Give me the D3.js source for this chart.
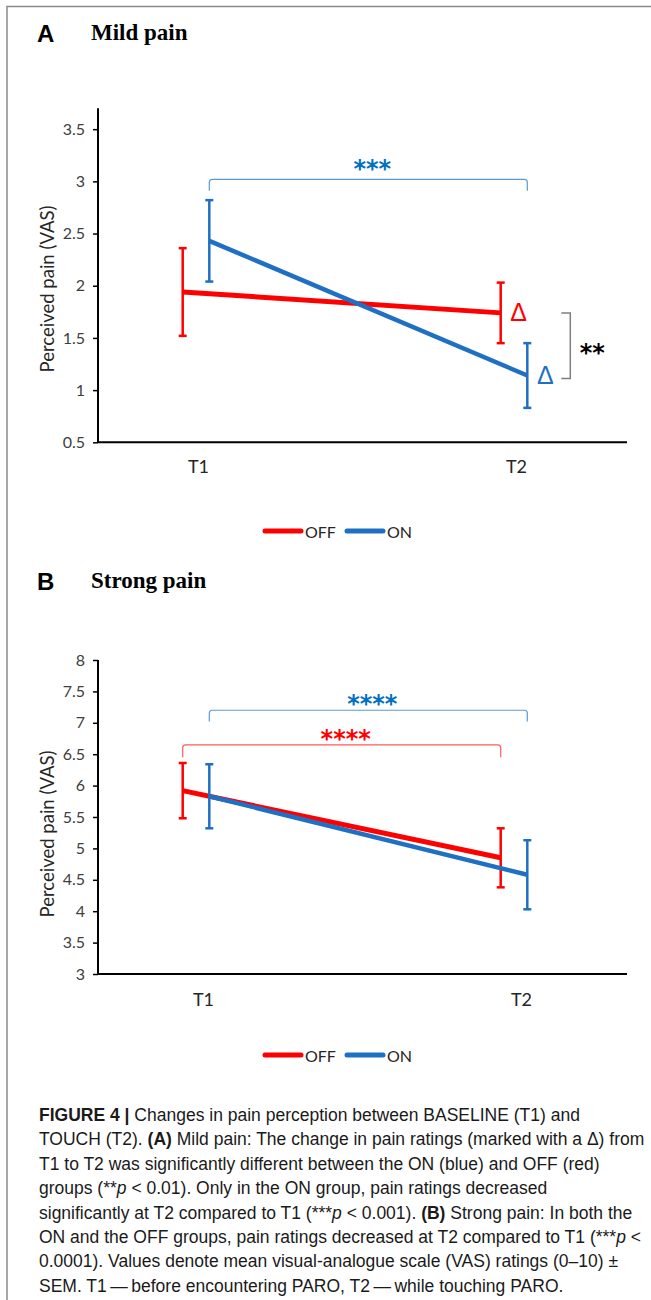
<!DOCTYPE html>
<html>
<head>
<meta charset="utf-8">
<script src="https://cdn.jsdelivr.net/npm/d3@7"></script>
<style>
  body { margin: 0; background: #fff; }
  svg { display: block; }
</style>
</head>
<body>
<div id="chart"></div>
<script>
// categories and series
const times = ["T1", "T2"];
const seriesNames = ["OFF", "ON"];
const seriesColors = { OFF: "#ff0000", ON: "#1f6fc4" };

// A - mild pain (mean VAS and SEM)
const mildOff = [1.94, 1.74];
const mildOffSem = [0.42, 0.29];
const mildOn = [2.43, 1.14];
const mildOnSem = [0.39, 0.31];
const mildTicks = [0.5, 1, 1.5, 2, 2.5, 3, 3.5];

// B - strong pain
const strongOff = [5.92, 4.85];
const strongOffSem = [0.44, 0.47];
const strongOn = [5.83, 4.58];
const strongOnSem = [0.51, 0.55];
const strongTicks = [3, 3.5, 4, 4.5, 5, 5.5, 6, 6.5, 7, 7.5, 8];

// caption lines: [text, style]
const captionLines = [
  [["FIGURE 4 | ", "b"], ["Changes in pain perception between BASELINE (T1) and", ""]],
  [["TOUCH (T2). ", ""], ["(A)", "b"], [" Mild pain: The change in pain ratings (marked with a \u0394) from", ""]],
  [["T1 to T2 was significantly different between the ON (blue) and OFF (red)", ""]],
  [["groups (**", ""], ["p", "i"], [" < 0.01). Only in the ON group, pain ratings decreased", ""]],
  [["significantly at T2 compared to T1 (***", ""], ["p", "i"], [" < 0.001). ", ""], ["(B)", "b"], [" Strong pain: In both the", ""]],
  [["ON and the OFF groups, pain ratings decreased at T2 compared to T1 (***", ""], ["p", "i"], [" <", ""]],
  [["0.0001). Values denote mean visual-analogue scale (VAS) ratings (0\u201310) \u00b1", ""]],
  [["SEM. T1\u2009\u2014\u2009before encountering PARO, T2\u2009\u2014\u2009while touching PARO.", ""]]
];

const W = 651, H = 1300;
const chartFont = "Lato, Carlito, 'Open Sans', sans-serif";
const starFont = "'DejaVu Sans', sans-serif";

const svg = d3.select("#chart").append("svg")
  .attr("width", W)
  .attr("height", H);

svg.append("rect").attr("width", W).attr("height", H).attr("fill", "#fff");

// frame (top and left edges)
svg.append("path")
  .attr("d", `M7,${H} V6.5 H${W}`)
  .attr("fill", "none")
  .attr("stroke", "#8a8a8a")
  .attr("stroke-width", 1.5);

const x = d3.scalePoint().domain(times).range([196, 514]);
const offset = { OFF: -13.3, ON: 13.3 };
const xLeft = 98, xRight = 627;

function bracketPath(x1, x2, yTop, yEnd, r) {
  return `M${x1},${yEnd} V${yTop + r} Q${x1},${yTop} ${x1 + r},${yTop} H${x2 - r} Q${x2},${yTop} ${x2},${yTop + r} V${yEnd}`;
}

function drawPanel(cfg) {
  const g = svg.append("g");
  const y = d3.scaleLinear().domain(cfg.yDomain).range(cfg.yRange);

  // titles
  g.append("text")
    .attr("x", 37).attr("y", cfg.titleY + 2)
    .attr("font-family", "'Liberation Sans', Arial, sans-serif")
    .attr("font-weight", "bold").attr("font-size", 24)
    .text(cfg.letter);
  g.append("text")
    .attr("x", 91).attr("y", cfg.titleY)
    .attr("font-family", "'Liberation Serif', 'Times New Roman', serif")
    .attr("font-weight", "bold").attr("font-size", 23)
    .text(cfg.title);

  // y axis
  const yAxis = g.append("g")
    .attr("transform", `translate(${xLeft},0)`)
    .call(d3.axisLeft(y).tickValues(cfg.ticks).tickSize(5).tickPadding(8)
      .tickFormat(d3.format("")));
  yAxis.select(".domain").remove();
  yAxis.selectAll(".tick line").attr("stroke", "#000").attr("stroke-width", 1.5);
  yAxis.selectAll(".tick text")
    .attr("font-family", chartFont).attr("font-size", 16).attr("fill", "#404040");
  g.append("line")
    .attr("x1", xLeft).attr("x2", xLeft)
    .attr("y1", y(cfg.yDomain[1])).attr("y2", y(cfg.yDomain[0]))
    .attr("stroke", "#000").attr("stroke-width", 2);

  // x axis
  const xAxis = g.append("g")
    .attr("transform", `translate(0,${y(cfg.yDomain[0])})`)
    .call(d3.axisBottom(x).tickSize(0).tickPadding(cfg.xPad));
  xAxis.select(".domain").remove();
  xAxis.selectAll(".tick text")
    .attr("dx", cfg.labelShift)
    .attr("font-family", chartFont).attr("font-size", 18).attr("fill", "#262626");
  g.append("line")
    .attr("x1", xLeft).attr("x2", xRight)
    .attr("y1", y(cfg.yDomain[0])).attr("y2", y(cfg.yDomain[0]))
    .attr("stroke", "#000").attr("stroke-width", 2);

  // y label
  g.append("text")
    .attr("transform", `translate(47,${cfg.yLabelY}) rotate(-90)`)
    .attr("text-anchor", "middle")
    .attr("dominant-baseline", "central")
    .attr("font-family", chartFont).attr("font-size", 18.5).attr("fill", "#262626")
    .text("Perceived pain (VAS)");

  // series
  const line = d3.line().x(d => x(d.t) + offset[d.s]).y(d => y(d.v));
  seriesNames.forEach(s => {
    const pts = times.map((t, i) => ({ t, s, v: cfg.means[s][i], e: cfg.sems[s][i] }));
    g.append("path")
      .datum(pts)
      .attr("d", line)
      .attr("fill", "none")
      .attr("stroke", seriesColors[s])
      .attr("stroke-width", s === "OFF" ? 5 : 4.5);
    const eb = g.selectAll(null).data(pts).enter().append("g")
      .attr("stroke", seriesColors[s]).attr("stroke-width", 2.5);
    eb.append("line")
      .attr("x1", d => x(d.t) + offset[d.s]).attr("x2", d => x(d.t) + offset[d.s])
      .attr("y1", d => y(d.v + d.e)).attr("y2", d => y(d.v - d.e));
    [1, -1].forEach(k => {
      eb.append("line")
        .attr("x1", d => x(d.t) + offset[d.s] - 4).attr("x2", d => x(d.t) + offset[d.s] + 4)
        .attr("y1", d => y(d.v + k * d.e)).attr("y2", d => y(d.v + k * d.e));
    });
  });

  // significance brackets
  cfg.brackets.forEach(b => {
    const x1 = x("T1") + offset[b.s], x2 = x("T2") + offset[b.s];
    g.append("path")
      .attr("d", bracketPath(x1, x2, y(b.level), y(b.end), 3))
      .attr("fill", "none").attr("stroke", b.lineColor).attr("stroke-width", 1.2);
    g.append("text")
      .attr("x", (x1 + x2) / 2 + 4).attr("y", y(b.level) + b.dy)
      .attr("text-anchor", "middle")
      .attr("font-family", starFont).attr("font-size", 24).attr("font-weight", "bold")
      .attr("fill", b.color)
      .text(b.label);
  });

  // change markers and between-group bracket
  if (cfg.deltas) {
    seriesNames.forEach(s => {
      const v = cfg.means[s][1];
      g.append("text")
        .attr("x", x("T2") + offset[s] + 18).attr("y", y(v) + 8.5)
        .attr("text-anchor", "middle")
        .attr("font-family", "'Liberation Sans', Arial, sans-serif")
        .attr("font-size", 25)
        .attr("fill", seriesColors[s])
        .text("\u0394");
    });
    const bx = x("T2") + offset.ON + 43;
    const y1 = y(cfg.means.OFF[1]), y2 = y(cfg.means.ON[1]) + 3;
    g.append("path")
      .attr("d", `M${bx - 9},${y1} H${bx} V${y2} H${bx - 9}`)
      .attr("fill", "none").attr("stroke", "#7f7f7f").attr("stroke-width", 1.5);
    g.append("text")
      .attr("x", bx + 22).attr("y", (y1 + y2) / 2 + 15)
      .attr("text-anchor", "middle")
      .attr("font-family", starFont).attr("font-size", 24).attr("font-weight", "bold")
      .attr("fill", "#000")
      .text("**");
  }

  // legend
  const lg = g.append("g").attr("transform", `translate(337,${cfg.legendY})`);
  const legendPos = [{ s: "OFF", x0: -72 }, { s: "ON", x0: 10 }];
  legendPos.forEach(p => {
    lg.append("line")
      .attr("x1", p.x0).attr("x2", p.x0 + 36)
      .attr("stroke", seriesColors[p.s]).attr("stroke-width", 5)
      .attr("stroke-linecap", "round");
    lg.append("text")
      .attr("x", p.x0 + 40).attr("y", 0)
      .attr("dominant-baseline", "central")
      .attr("font-family", chartFont).attr("font-size", 16).attr("fill", "#262626")
      .text(p.s);
  });
}

drawPanel({
  letter: "A", title: "Mild pain", titleY: 40,
  yDomain: [0.5, 3.7], yRange: [442.3, 108.3], ticks: mildTicks,
  means: { OFF: mildOff, ON: mildOn }, sems: { OFF: mildOffSem, ON: mildOnSem },
  xPad: 18, labelShift: 2, yLabelY: 289, legendY: 531,
  brackets: [
    { s: "ON", level: 3.02, end: 2.91, label: "***", color: "#0070c0", lineColor: "#5b9bd5", dy: -2 }
  ],
  deltas: true
});

drawPanel({
  letter: "B", title: "Strong pain", titleY: 588,
  yDomain: [3, 8], yRange: [974, 660], ticks: strongTicks,
  means: { OFF: strongOff, ON: strongOn }, sems: { OFF: strongOffSem, ON: strongOnSem },
  xPad: 19, labelShift: 7, yLabelY: 834, legendY: 1055,
  brackets: [
    { s: "ON", level: 7.2, end: 7.02, label: "****", color: "#0070c0", lineColor: "#5b9bd5", dy: 2 },
    { s: "OFF", level: 6.65, end: 6.45, label: "****", color: "#ff0000", lineColor: "#ff5b5b", dy: 2 }
  ],
  deltas: false
});

// caption
const cap = svg.append("g")
  .attr("font-family", "'Liberation Sans', Arial, Helvetica, sans-serif")
  .attr("font-size", 17.5)
  .attr("fill", "#1a1a1a");
captionLines.forEach((segs, i) => {
  const t = cap.append("text").attr("x", 39).attr("y", 1121 + i * 24.4);
  segs.forEach(([txt, st]) => {
    t.append("tspan")
      .attr("font-weight", st === "b" ? "bold" : null)
      .attr("font-style", st === "i" ? "italic" : null)
      .text(txt);
  });
});
</script>
</body>
</html>
